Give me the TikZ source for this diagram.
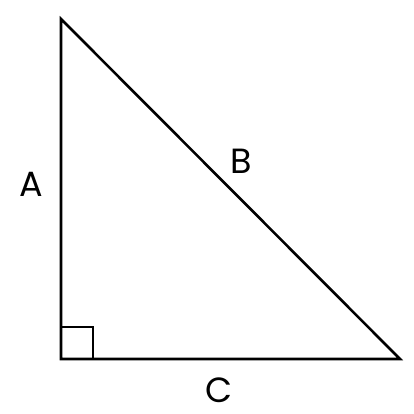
\documentclass[tikz,border=0pt]{standalone}
\usepackage{fontspec}
\setmainfont{Poppins}
\usepackage{tikz}
\definecolor{edgeblack}{RGB}{0, 0, 0}

\begin{document}
\begin{tikzpicture}[x=1pt, y=1pt,
    side/.style={draw=edgeblack, line width=2.6pt, line join=miter},
    sidelabel/.style={inner sep=0pt, font=\fontsize{35}{40}\selectfont}]
    \useasboundingbox (0,0) rectangle (414,414);
    \coordinate (top) at (61,395);
    \coordinate (corner) at (61,55);
    \coordinate (right) at (400,55);
    \draw[side] (top) -- (corner) -- (right) -- cycle;
    \draw[side] (corner) rectangle ++(32,32);
    \node[sidelabel] (labelA) at (31,230) {A};
    \node[sidelabel] (labelB) at (241,253) {B};
    \node[sidelabel] (labelC) at (219,24) {C};
\end{tikzpicture}
\end{document}
